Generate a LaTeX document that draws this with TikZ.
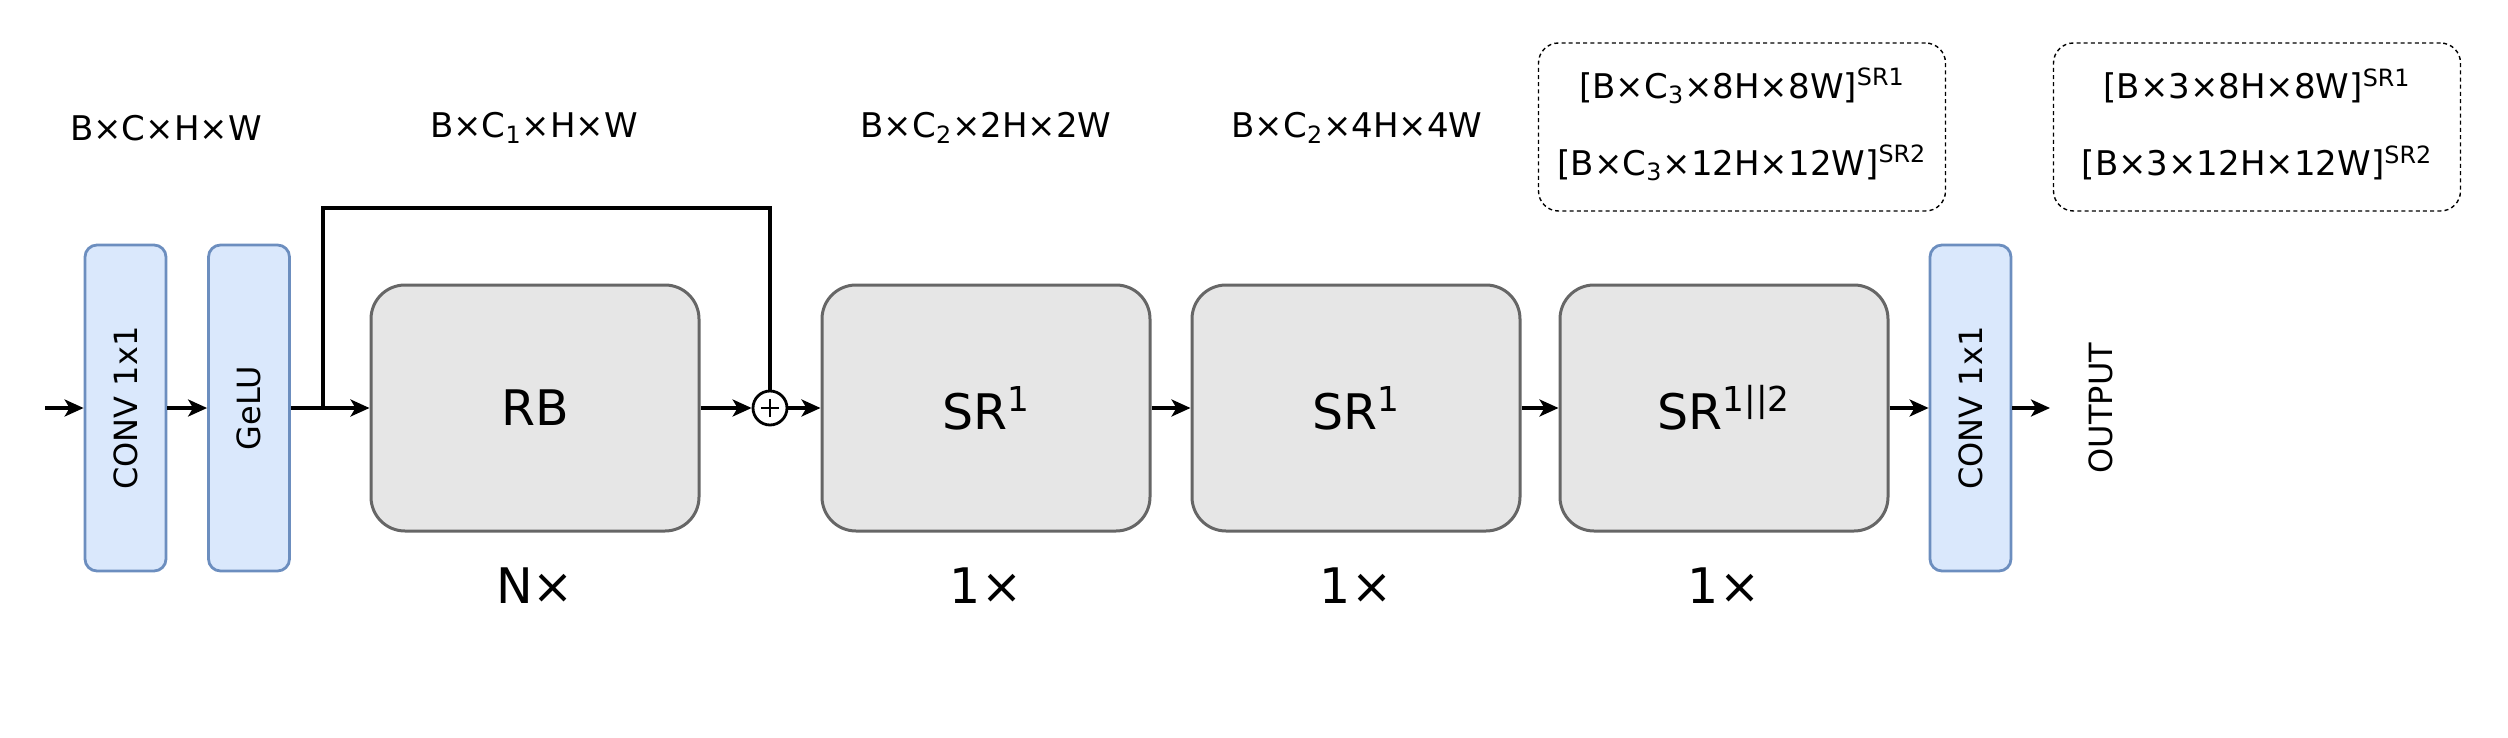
\documentclass[tikz,border=0pt]{standalone}
\usepackage{fontspec}
\setmainfont{DejaVu Sans}
\usetikzlibrary{arrows.meta}
\definecolor{bluefill}{HTML}{DAE8FC}
\definecolor{bluedraw}{HTML}{6C8EBF}
\definecolor{grayfill}{HTML}{E6E6E6}
\definecolor{graydraw}{HTML}{666666}
\begin{document}
\begin{tikzpicture}[x=0.5pt,y=-0.5pt,
  convbox/.style={draw=bluedraw, fill=bluefill, line width=1.4pt, rounded corners=6pt,
    minimum width=40.5pt, minimum height=163pt, inner sep=0pt},
  blk/.style={draw=graydraw, fill=grayfill, line width=1.5pt, rounded corners=17pt,
    minimum width=164pt, minimum height=123pt, inner sep=0pt, font=\fontsize{24.5}{29}\selectfont},
  dbox/.style={draw=black, dashed, dash pattern=on 2pt off 1.6pt, line width=0.7pt, rounded corners=10pt,
    minimum width=203.5pt, minimum height=84pt, inner sep=0pt},
  lab/.style={font=\fontsize{17}{20}\selectfont, inner sep=0pt},
  vtext/.style={font=\fontsize{16}{19}\selectfont, rotate=90, inner sep=0pt},
  cnt/.style={font=\fontsize{24.5}{29}\selectfont, inner sep=0pt},
  arr/.style={line width=1.6pt, -{Stealth[length=9.5pt, width=8.5pt, inset=2.5pt]}},
  ln/.style={line width=1.6pt},
]
\useasboundingbox (0,0) rectangle (2508,738);

% blocks
\node[convbox] (c1) at (125.5,408) {};
\node[vtext] (c1t) at (c1) {CONV 1x1};
\node[convbox] (g) at (249,408) {};
\node[vtext] (gt) at (g) {GeLU};
\node[blk] (rb) at (535,408) {RB};
\node[circle, draw, line width=1.4pt, minimum size=17pt, inner sep=0pt] (plus) at (770,408) {};
\node[blk] (sr1) at (986,408) {SR\textsuperscript{1}};
\node[blk] (sr2) at (1356,408) {SR\textsuperscript{1}};
\node[blk] (sr3) at (1724,408) {SR\textsuperscript{1||2}};
\node[convbox] (c2) at (1970.5,408) {};
\node[vtext] (c2t) at (c2) {CONV 1x1};
\node[vtext] (out) at (2101,408) {OUTPUT};

% plus sign
\draw[line width=1pt] ([xshift=-4.5pt]plus.center) -- ([xshift=4.5pt]plus.center);
\draw[line width=1pt] ([yshift=-4.5pt]plus.center) -- ([yshift=4.5pt]plus.center);

% connectors
\coordinate (in) at (45,408);
\coordinate (br) at (323,408);
\coordinate (bt) at (323,208);
\coordinate (oend) at (2050,408);
\draw[arr] (in) -- (c1.west);
\draw[arr] (c1.east) -- (g.west);
\draw[arr] (g.east) -- (rb.west);
\draw[ln] (br) -- (bt) -| (plus.north);
\draw[arr] (rb.east) -- (plus.west);
\draw[arr] (plus.east) -- (sr1.west);
\draw[arr] (sr1.east) -- (sr2.west);
\draw[arr] (sr2.east) -- (sr3.west);
\draw[arr] (sr3.east) -- (c2.west);
\draw[arr] (c2.east) -- (oend);

% top labels
\node[lab] (l1) at (166,128) {B×C×H×W};
\node[lab] (l2) at (534,128) {B×C\textsubscript{1}×H×W};
\node[lab] (l3) at (986,128) {B×C\textsubscript{2}×2H×2W};
\node[lab] (l4) at (1357,128) {B×C\textsubscript{2}×4H×4W};

% dashed boxes
\node[dbox] (d1) at (1742,127) {};
\node[lab] (d1a) at (1742,86) {[B×C\textsubscript{3}×8H×8W]\textsuperscript{SR1}};
\node[lab] (d1b) at (1742,163) {[B×C\textsubscript{3}×12H×12W]\textsuperscript{SR2}};
\node[dbox] (d2) at (2257,127) {};
\node[lab] (d2a) at (2257,86) {[B×3×8H×8W]\textsuperscript{SR1}};
\node[lab] (d2b) at (2257,163) {[B×3×12H×12W]\textsuperscript{SR2}};

% counts
\node[cnt] (n1) at (535,586) {N×};
\node[cnt] (n2) at (986,586) {1×};
\node[cnt] (n3) at (1356,586) {1×};
\node[cnt] (n4) at (1724,586) {1×};
\end{tikzpicture}
\end{document}
